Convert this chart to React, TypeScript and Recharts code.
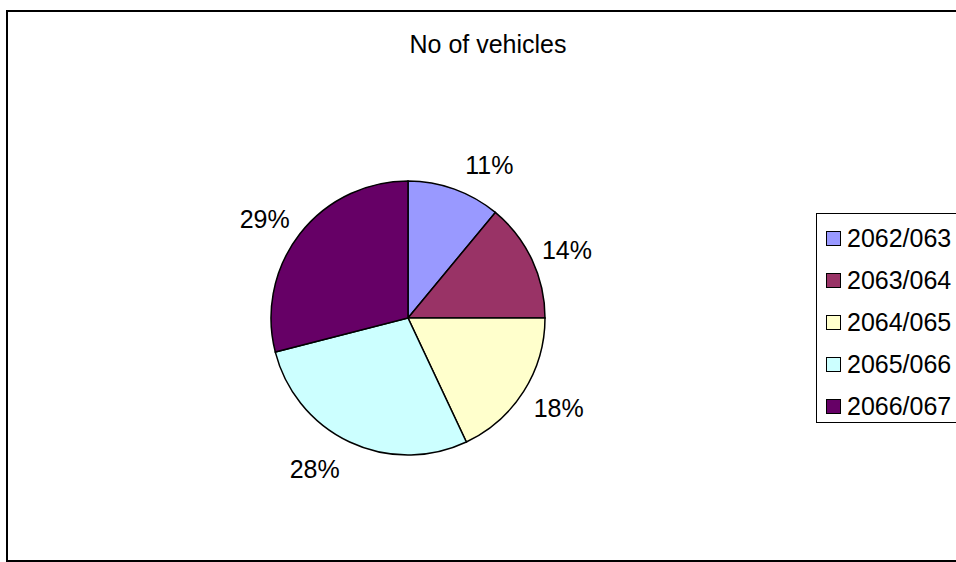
import { PieChart, Pie, Cell, Legend } from "recharts";

const years = ["2062/063", "2063/064", "2064/065", "2065/066", "2066/067"];
const shares = [11, 14, 18, 28, 29];

const COLORS = ["#9999FF", "#993366", "#FFFFCC", "#CCFFFF", "#660066"];

const FONT = "'Liberation Sans', Arial, sans-serif";
const RADIAN = Math.PI / 180;

const chartData = years.map((year, i) => ({ year, value: shares[i] }));

// label sits beside the slice's outer edge, pushed sideways like Excel does
function renderLabel(props: any) {
  const { cx, cy, midAngle, outerRadius, percent } = props;
  const cos = Math.cos(-midAngle * RADIAN);
  const sin = Math.sin(-midAngle * RADIAN);
  const px = cx + outerRadius * cos;
  const py = cy + outerRadius * sin;
  const x = px + (cos >= 0 ? 35 : -35);
  const y = py + 28 * sin + 2;
  return (
    <text
      x={x}
      y={y}
      fill="#000"
      fontSize={25}
      fontFamily={FONT}
      textAnchor="middle"
      dominantBaseline="central"
    >
      {`${Math.round(percent * 100)}%`}
    </text>
  );
}

function LegendBox() {
  return (
    <div
      style={{
        width: 180,
        height: 208,
        border: "1px solid #000",
        background: "#fff",
        fontFamily: FONT,
        fontSize: 25,
        color: "#000",
        position: "relative",
      }}
    >
      {years.map((y, i) => (
        <div
          key={y}
          style={{
            position: "absolute",
            left: 9,
            top: 24 + i * 42 - 14,
            height: 28,
            display: "flex",
            alignItems: "center",
            whiteSpace: "nowrap",
          }}
        >
          <span
            style={{
              display: "inline-block",
              width: 13,
              height: 13,
              border: "1px solid #000",
              background: COLORS[i],
              marginRight: 6,
            }}
          />
          {y}
        </div>
      ))}
    </div>
  );
}

export default function App() {
  return (
    <div
      style={{
        position: "absolute",
        left: 0,
        top: 0,
        width: 956,
        height: 562,
        overflow: "hidden",
        background: "#fff",
      }}
    >
      <div
        style={{
          position: "absolute",
          left: 6,
          top: 10,
          width: 1000,
          height: 548,
          border: "2px solid #000",
        }}
      />
      <div
        style={{
          position: "absolute",
          left: 0,
          width: 976,
          top: 30,
          textAlign: "center",
          fontFamily: FONT,
          fontSize: 25,
          color: "#000",
        }}
      >
        No of vehicles
      </div>
      <div style={{ position: "absolute", left: 0, top: 0 }}>
        <PieChart width={956} height={562} margin={{ top: 0, right: 0, bottom: 0, left: 0 }}>
          <Pie
            data={chartData}
            dataKey="value"
            nameKey="year"
            cx={408}
            cy={318}
            outerRadius={137}
            startAngle={90}
            endAngle={-270}
            stroke="#000"
            strokeWidth={1.5}
            label={renderLabel}
            labelLine={false}
            isAnimationActive={false}
          >
            {chartData.map((entry, index) => (
              <Cell key={`cell-${index}`} fill={COLORS[index % COLORS.length]} />
            ))}
          </Pie>
          <Legend
            content={() => <LegendBox />}
            wrapperStyle={{ position: "absolute", left: 816, top: 213, width: 180 }}
          />
        </PieChart>
      </div>
    </div>
  );
}
